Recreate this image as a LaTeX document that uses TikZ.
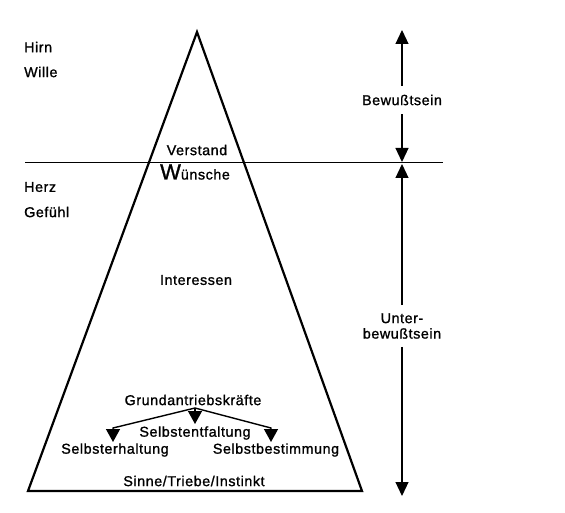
\documentclass[tikz,border=0pt]{standalone}
\usepackage{fontspec}
\setmainfont{Liberation Sans}[LetterSpace=4, FakeBold=1.2]
\usetikzlibrary{arrows.meta, positioning}
\tikzset{
  txt/.style={font=\fontsize{14.3}{15.5}\selectfont, inner sep=1pt},
  lefttxt/.style={txt, anchor=west},
  sidetxt/.style={txt, align=center, inner sep=5pt},
  pyramid/.style={line width=2.2pt, line join=miter},
  divider/.style={line width=1pt},
  arrow/.style={-{Triangle[length=14pt, width=13pt]}, line width=1.2pt},
  forkarrow/.style={-{Triangle[length=13pt, width=14pt]}, line width=1.4pt},
}

\begin{document}
\begin{tikzpicture}[x=1pt, y=-1pt]
  \useasboundingbox (0,0) rectangle (565,513);

  % pyramid and level line
  \coordinate (apex) at (197,32);
  \coordinate (bl) at (28,491);
  \coordinate (br) at (362,491);
  \draw[pyramid] (apex) -- (bl) -- (br) -- cycle;
  \draw[line width=1.6pt] (bl) -- (br);
  \coordinate (hl) at (25,163);
  \coordinate (hr) at (443,163);
  \draw[divider] (hl) -- (hr);

  % left labels
  \node[lefttxt] (hirn) at (23,47) {Hirn};
  \node[lefttxt] (wille) at (23,72) {Wille};
  \node[lefttxt] (herz) at (23,187) {Herz};
  \node[lefttxt] (gefuehl) at (23,212) {Gefühl};

  % inside the pyramid
  \node[txt] (verstand) at (197,150) {Verstand};
  \node[txt] (wuensche) at (195,172) {{\fontsize{22}{22}\selectfont W}ünsche};
  \node[txt] (interessen) at (196,280) {Interessen};
  \node[txt] (grund) at (193,400) {Grundantriebskräfte};
  \node[txt] (entfaltung) at (195,433) {Selbstentfaltung};
  \node[txt] (erhaltung) at (115,450) {Selbsterhaltung};
  \node[txt] (bestimmung) at (276,450) {Selbstbestimmung};
  \node[txt] (sinne) at (194,481) {Sinne/Triebe/Instinkt};

  % fork of the drives
  \coordinate (fork) at (195,408);
  \coordinate (lbend) at (113,428);
  \coordinate (ltip) at (113,442);
  \coordinate (mtip) at (195,424);
  \coordinate (rbend) at (271,428);
  \coordinate (rtip) at (271,442);
  \draw[forkarrow] (fork) -- (lbend) -- (ltip);
  \draw[forkarrow] (fork) -- (mtip);
  \draw[forkarrow] (fork) -- (rbend) -- (rtip);

  % right scale
  \node[sidetxt, inner sep=9pt] (bewusst) at (402,100) {Bewußtsein};
  \coordinate (btop) at (402,30);
  \coordinate (bbot) at (402,162);
  \draw[arrow] (bewusst) -- (btop);
  \draw[arrow] (bewusst) -- (bbot);

  \node[sidetxt, inner sep=8pt] (unbewusst) at (402,326) {Unter-\\bewußtsein};
  \coordinate (utop) at (402,164);
  \coordinate (ubot) at (402,496);
  \draw[arrow] (unbewusst) -- (utop);
  \draw[arrow] (unbewusst) -- (ubot);
\end{tikzpicture}
\end{document}
